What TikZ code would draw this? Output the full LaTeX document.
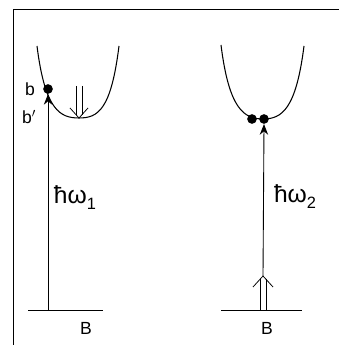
\documentclass[tikz,border=0pt]{standalone}
\usepackage{fontspec}
\setmainfont{Liberation Sans}
\usetikzlibrary{arrows.meta,positioning}

\begin{document}
\begin{tikzpicture}[x=0.3mm, y=0.3mm, line join=round,
  curve/.style={line width=0.9pt},
  arr/.style={line width=0.75pt, -{Stealth[length=3.2mm, width=2.5mm]}},
  shaft/.style={line width=0.65pt},
  vhead/.style={line width=0.65pt},
  dot/.style={circle, fill, inner sep=0pt, minimum size=2.9mm},
  lbl/.style={font=\fontsize{15}{15}\selectfont, inner sep=1pt},
  en/.style={font=\fontsize{21}{21}\selectfont, inner sep=1pt}]
\useasboundingbox (0,0) rectangle (339,345);
% frame
\draw[line width=0.7pt] (13,0) -- (13,336) -- (339,336);
% left well
\draw[curve] (37,299) .. controls (45,235) and (60,227) .. (79,227)
  .. controls (98,227) and (111,235) .. (119,299);
\node[dot] (b) at (48,256) {};
\node[lbl, left=2mm of b] (lb) {b};
\node[lbl] (lbp) at (29,228) {b$'$};
\coordinate (g1) at (48,35);
\draw[line width=0.8pt] (28,35) -- (103,35);
\draw[arr] (g1) -- (b.south);
\node[en] (w1) at (75,147) {ħω\raisebox{-0.45ex}{\fontsize{14}{14}\selectfont 1}};
\node[lbl] (B1) at (86,17) {B};
\coordinate (d1) at (79,259);
\coordinate (d1e) at (79,227);
\draw[shaft] ([xshift=-0.9mm]d1) -- ([xshift=-0.9mm, yshift=1mm]d1e);
\draw[shaft] ([xshift=0.9mm]d1) -- ([xshift=0.9mm, yshift=1mm]d1e);
\draw[vhead] ([shift={(-9,10)}]d1e) -- (d1e) -- ([shift={(9,10)}]d1e);
% right well
\draw[curve] (221,300) .. controls (229,236) and (244,226) .. (263,226)
  .. controls (282,226) and (296,236) .. (304,299);
\node[dot] (c1) at (252,226) {};
\node[dot] (c2) at (264,226) {};
\coordinate (g2) at (263,35);
\coordinate (u2) at (263,69);
\draw[line width=0.8pt] (221,35) -- (302,35);
\draw[arr] (u2) -- (c2.south);
\draw[shaft] ([xshift=-0.9mm]g2) -- ([xshift=-0.9mm, yshift=-1mm]u2);
\draw[shaft] ([xshift=0.9mm]g2) -- ([xshift=0.9mm, yshift=-1mm]u2);
\draw[vhead] ([shift={(-10,-11)}]u2) -- (u2) -- ([shift={(10,-11)}]u2);
\node[en] (w2) at (295,148) {ħω\raisebox{-0.45ex}{\fontsize{14}{14}\selectfont 2}};
\node[lbl] (B2) at (267,17) {B};
\end{tikzpicture}
\end{document}
